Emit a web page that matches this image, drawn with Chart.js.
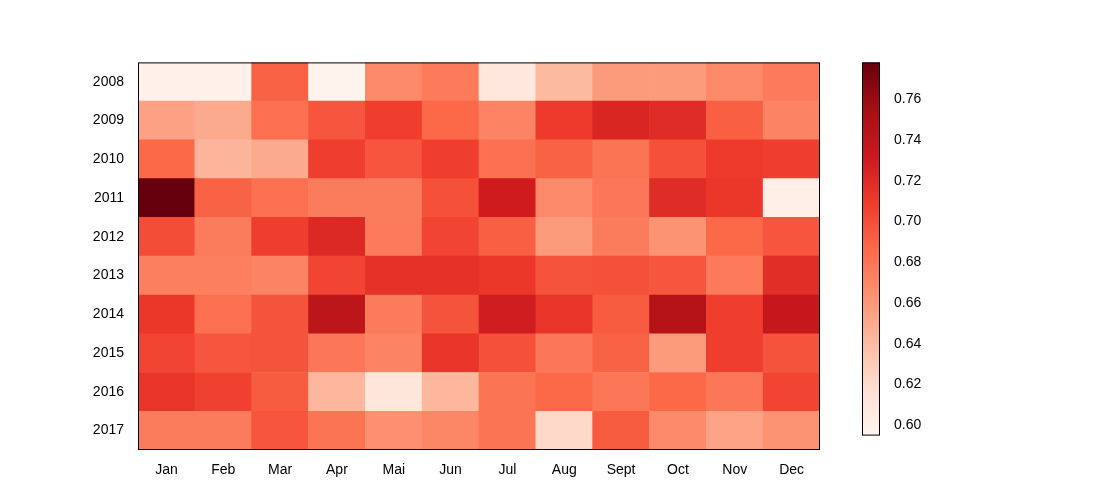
<!DOCTYPE html>
<html><head><meta charset="utf-8">
<script src="https://cdn.jsdelivr.net/npm/chart.js@4"></script>
<style>body{margin:0;background:#fff;width:1100px;height:500px;position:relative;overflow:hidden}
#m{position:absolute;left:90px;top:48px;width:730px;height:432px}
#c{position:absolute;left:862px;top:48px;width:70px;height:402px}</style></head>
<body><div id="m"><canvas id="hm"></canvas></div><div id="c"><canvas id="cb"></canvas></div>
<script>
const months=["Jan","Feb","Mar","Apr","Mai","Jun","Jul","Aug","Sept","Oct","Nov","Dec"];
const years=["2008","2009","2010","2011","2012","2013","2014","2015","2016","2017"];
const v2008=[0.600,0.600,0.690,0.597,0.668,0.677,0.610,0.641,0.659,0.659,0.668,0.677];
const v2009=[0.655,0.650,0.683,0.696,0.708,0.687,0.672,0.710,0.723,0.719,0.692,0.672];
const v2010=[0.687,0.644,0.650,0.708,0.696,0.708,0.683,0.690,0.681,0.699,0.710,0.708];
const v2011=[0.778,0.690,0.683,0.676,0.676,0.699,0.730,0.668,0.679,0.719,0.712,0.602];
const v2012=[0.701,0.676,0.708,0.721,0.677,0.705,0.692,0.659,0.676,0.663,0.687,0.696];
const v2013=[0.674,0.674,0.672,0.705,0.716,0.716,0.712,0.697,0.699,0.696,0.677,0.718];
const v2014=[0.712,0.683,0.697,0.741,0.677,0.697,0.729,0.714,0.694,0.745,0.708,0.736];
const v2015=[0.705,0.696,0.697,0.679,0.672,0.714,0.699,0.679,0.690,0.659,0.708,0.697];
const v2016=[0.714,0.707,0.694,0.643,0.611,0.643,0.681,0.687,0.679,0.687,0.679,0.705];
const v2017=[0.676,0.676,0.696,0.681,0.665,0.670,0.681,0.622,0.694,0.668,0.654,0.663];
const rows=[v2008,v2009,v2010,v2011,v2012,v2013,v2014,v2015,v2016,v2017];
const vmin=0.595,vmax=0.778;
const stops=[[255,245,240],[254,224,210],[252,187,161],[252,146,114],[251,106,74],[239,59,44],[203,24,29],[165,15,21],[103,0,13]];
function cmap(v){let t=Math.max(0,Math.min(1,(v-vmin)/(vmax-vmin)))*8;let i=Math.min(7,Math.floor(t)),f=t-i;const a=stops[i],b=stops[i+1];return `rgb(${a.map((x,k)=>Math.round(x+(b[k]-x)*f)).join(',')})`;}
Chart.defaults.font.family="'Liberation Sans', Arial, sans-serif";Chart.defaults.font.size=14;Chart.defaults.color="#000";
const frame={id:'frame',afterDraw(c){const a=c.chartArea,x=c.ctx;x.save();x.strokeStyle='#000';x.lineWidth=1;x.strokeRect(a.left+0.5,a.top+0.5,a.width-1,a.height-1);x.restore();}};
const ds=rows.slice().reverse().map((r,i)=>({label:years[years.length-1-i],data:months.map(()=>1),backgroundColor:r.map(cmap),barPercentage:1,categoryPercentage:1,borderWidth:0}));
new Chart(document.getElementById('hm'),{type:'bar',data:{labels:months,datasets:ds},plugins:[frame],
options:{responsive:true,maintainAspectRatio:false,animation:false,events:[],layout:{padding:0},
plugins:{legend:{display:false},tooltip:{enabled:false}},
scales:{x:{stacked:true,grid:{display:false},border:{display:false},ticks:{padding:4},afterFit(s){s.height=30;}},
y:{stacked:true,min:0,max:10,grid:{display:false},border:{display:false},
afterBuildTicks(s){s.ticks=years.map((y,i)=>({value:9.5-i}));},
ticks:{callback:(v)=>years[Math.round(9.5-v)],padding:6},afterFit(s){s.width=48;}}}}});
const cbTicks=[0.60,0.62,0.64,0.66,0.68,0.70,0.72,0.74,0.76];
new Chart(document.getElementById('cb'),{type:'bar',data:{labels:['c'],datasets:[{data:[[vmin,vmax]],barPercentage:1,categoryPercentage:1,borderWidth:0,
backgroundColor(ctx){const a=ctx.chart.chartArea;if(!a)return '#fff';const g=ctx.chart.ctx.createLinearGradient(0,a.bottom,0,a.top);stops.forEach((s,i)=>g.addColorStop(i/8,`rgb(${s.join(',')})`));return g;}}]},plugins:[frame],
options:{responsive:true,maintainAspectRatio:false,animation:false,events:[],layout:{padding:0},
plugins:{legend:{display:false},tooltip:{enabled:false}},
scales:{x:{display:false},y:{position:'right',min:vmin,max:vmax,grid:{display:false},border:{display:false},
afterBuildTicks(s){s.ticks=cbTicks.map(v=>({value:v}));},ticks:{callback:v=>v.toFixed(2),padding:6},afterFit(s){s.width=52;}}}}});
</script></body></html>
